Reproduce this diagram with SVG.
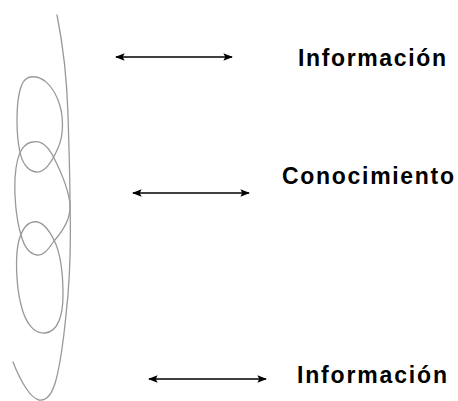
<svg xmlns="http://www.w3.org/2000/svg" width="458" height="401" viewBox="0 0 458 401">
<style>
.lbl{font-family:"Liberation Sans",Arial,sans-serif;font-weight:bold;fill:#000}
.arr{stroke:#000;stroke-width:1.6;fill:none;marker-start:url(#ah);marker-end:url(#ah)}
.coil{fill:none;stroke:#999;stroke-width:1.3;stroke-linecap:round}
</style>
<defs>
<marker id="ah" viewBox="0 0 10 8" refX="9" refY="4" markerWidth="6" markerHeight="5" orient="auto-start-reverse" markerUnits="strokeWidth">
<path d="M0,0 L10,4 L0,8 L2,4 Z" fill="#000"/>
</marker>
</defs>
<rect width="458" height="401" fill="#fff"/>
<g id="coil">
<path class="coil" d="M57,15 C63,45 67,80 68,115 C69,150 70,175 70,205 C71,240 70,280 66,315 C63,345 60,365 56,380 C52,395 46,401 39,400 C30,398 20,380 13,362"/>
<path class="coil" d="M30,77 C42,75 52,85 58,100 C64,115 64,135 58,148 C52,162 44,173 36,172 C28,171 22,163 20,152 C16,135 16,105 20,90 C22,82 25,78 30,77 Z"/>
<path class="coil" d="M33,142 C42,140 49,148 54,158 C61,172 69,190 70,205 C71,220 62,232 54,241 C48,250 43,256 37,255 C29,254 24,246 21,235 C16,218 14,195 15,178 C16,163 18,155 22,149 C25,145 29,142 33,142 Z"/>
<path class="coil" d="M33,222 C42,220 49,230 54,240 C60,252 63,270 63,295 C63,315 58,332 45,333 C35,334 26,325 21,305 C16,285 15,255 19,240 C22,230 27,223 33,222 Z"/>
</g>
<g id="connectors">
<line class="arr" x1="116" y1="57" x2="232" y2="57"/>
<line class="arr" x1="133" y1="193" x2="249" y2="193"/>
<line class="arr" x1="149" y1="379" x2="266" y2="379"/>
</g>
<g id="n1"><text class="lbl" x="298" y="66" font-size="23" textLength="148" lengthAdjust="spacing">Información</text></g>
<g id="n2"><text class="lbl" x="282" y="184" font-size="23" textLength="172" lengthAdjust="spacing">Conocimiento</text></g>
<g id="n3"><text class="lbl" x="297" y="383" font-size="23" textLength="150" lengthAdjust="spacing">Información</text></g>
</svg>
